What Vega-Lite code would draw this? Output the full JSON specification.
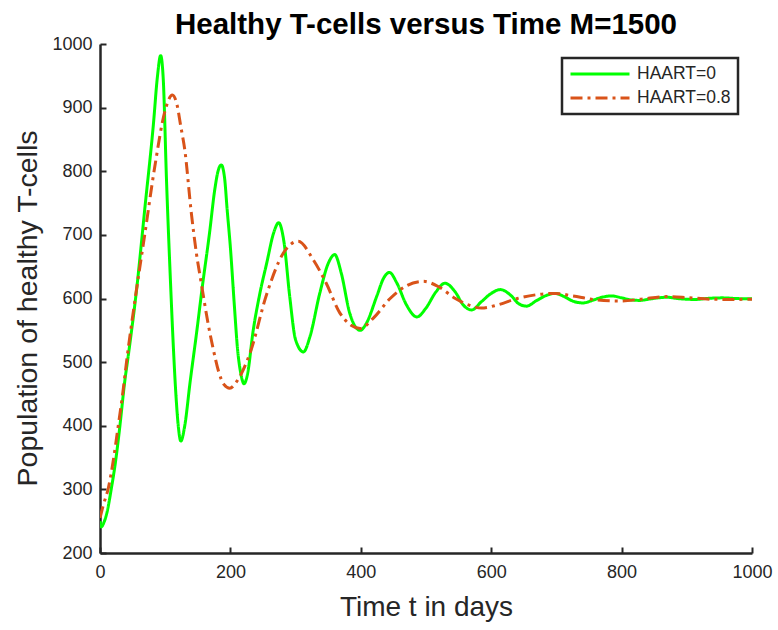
{
  "$schema": "https://vega.github.io/schema/vega-lite/v6.json",
  "autosize": {"type": "none"},
  "width": 652,
  "height": 509,
  "padding": {"left": 100, "top": 44, "right": 26, "bottom": 77},
  "background": "white",
  "config": {
    "view": {"stroke": null},
    "font": "Liberation Sans"
  },
  "title": {
    "text": "Healthy T-cells versus Time M=1500",
    "fontSize": 29.5,
    "fontWeight": "bold",
    "font": "Liberation Sans",
    "color": "#000000",
    "anchor": "middle",
    "offset": 0,
    "dy": 5
  },
  "data": {
    "values": [
      {"series": "HAART=0", "t": 0, "v": 250},
      {"series": "HAART=0", "t": 2, "v": 241},
      {"series": "HAART=0", "t": 6, "v": 248},
      {"series": "HAART=0", "t": 11, "v": 265},
      {"series": "HAART=0", "t": 17, "v": 299},
      {"series": "HAART=0", "t": 24, "v": 345},
      {"series": "HAART=0", "t": 30, "v": 395},
      {"series": "HAART=0", "t": 38, "v": 470},
      {"series": "HAART=0", "t": 44, "v": 515},
      {"series": "HAART=0", "t": 56, "v": 613},
      {"series": "HAART=0", "t": 69, "v": 744},
      {"series": "HAART=0", "t": 82, "v": 875},
      {"series": "HAART=0", "t": 88, "v": 948},
      {"series": "HAART=0", "t": 93, "v": 982},
      {"series": "HAART=0", "t": 97, "v": 945},
      {"series": "HAART=0", "t": 102, "v": 786},
      {"series": "HAART=0", "t": 108, "v": 629},
      {"series": "HAART=0", "t": 112.5, "v": 524},
      {"series": "HAART=0", "t": 116.6, "v": 446},
      {"series": "HAART=0", "t": 120, "v": 400},
      {"series": "HAART=0", "t": 124, "v": 376},
      {"series": "HAART=0", "t": 130, "v": 400},
      {"series": "HAART=0", "t": 138, "v": 467},
      {"series": "HAART=0", "t": 148, "v": 545},
      {"series": "HAART=0", "t": 157, "v": 619},
      {"series": "HAART=0", "t": 168, "v": 703},
      {"series": "HAART=0", "t": 176, "v": 771},
      {"series": "HAART=0", "t": 181, "v": 800},
      {"series": "HAART=0", "t": 186, "v": 810},
      {"series": "HAART=0", "t": 191, "v": 790},
      {"series": "HAART=0", "t": 195, "v": 740},
      {"series": "HAART=0", "t": 200, "v": 680},
      {"series": "HAART=0", "t": 206, "v": 590},
      {"series": "HAART=0", "t": 211, "v": 520},
      {"series": "HAART=0", "t": 216, "v": 482},
      {"series": "HAART=0", "t": 221, "v": 466},
      {"series": "HAART=0", "t": 226, "v": 480},
      {"series": "HAART=0", "t": 235, "v": 550},
      {"series": "HAART=0", "t": 245, "v": 607},
      {"series": "HAART=0", "t": 256, "v": 657},
      {"series": "HAART=0", "t": 266, "v": 702},
      {"series": "HAART=0", "t": 274, "v": 719},
      {"series": "HAART=0", "t": 282, "v": 690},
      {"series": "HAART=0", "t": 291, "v": 603},
      {"series": "HAART=0", "t": 300, "v": 535},
      {"series": "HAART=0", "t": 312, "v": 516},
      {"series": "HAART=0", "t": 322, "v": 540},
      {"series": "HAART=0", "t": 337, "v": 608},
      {"series": "HAART=0", "t": 350, "v": 655},
      {"series": "HAART=0", "t": 360, "v": 669},
      {"series": "HAART=0", "t": 370, "v": 640},
      {"series": "HAART=0", "t": 383, "v": 577},
      {"series": "HAART=0", "t": 392, "v": 555},
      {"series": "HAART=0", "t": 399, "v": 550},
      {"series": "HAART=0", "t": 408, "v": 560},
      {"series": "HAART=0", "t": 425, "v": 605},
      {"series": "HAART=0", "t": 435, "v": 632},
      {"series": "HAART=0", "t": 444, "v": 641},
      {"series": "HAART=0", "t": 455, "v": 625},
      {"series": "HAART=0", "t": 470, "v": 590},
      {"series": "HAART=0", "t": 486, "v": 571},
      {"series": "HAART=0", "t": 500, "v": 585},
      {"series": "HAART=0", "t": 515, "v": 610},
      {"series": "HAART=0", "t": 529, "v": 624},
      {"series": "HAART=0", "t": 545, "v": 610},
      {"series": "HAART=0", "t": 557, "v": 590},
      {"series": "HAART=0", "t": 570, "v": 582},
      {"series": "HAART=0", "t": 585, "v": 595},
      {"series": "HAART=0", "t": 600, "v": 608},
      {"series": "HAART=0", "t": 614, "v": 614},
      {"series": "HAART=0", "t": 630, "v": 605},
      {"series": "HAART=0", "t": 642, "v": 592},
      {"series": "HAART=0", "t": 654, "v": 588},
      {"series": "HAART=0", "t": 670, "v": 597},
      {"series": "HAART=0", "t": 685, "v": 605},
      {"series": "HAART=0", "t": 698, "v": 608},
      {"series": "HAART=0", "t": 712, "v": 603},
      {"series": "HAART=0", "t": 725, "v": 596},
      {"series": "HAART=0", "t": 741, "v": 593},
      {"series": "HAART=0", "t": 755, "v": 597},
      {"series": "HAART=0", "t": 770, "v": 602},
      {"series": "HAART=0", "t": 785, "v": 604},
      {"series": "HAART=0", "t": 800, "v": 601},
      {"series": "HAART=0", "t": 813, "v": 598},
      {"series": "HAART=0", "t": 828, "v": 597},
      {"series": "HAART=0", "t": 842, "v": 599},
      {"series": "HAART=0", "t": 856, "v": 601},
      {"series": "HAART=0", "t": 870, "v": 602},
      {"series": "HAART=0", "t": 885, "v": 600},
      {"series": "HAART=0", "t": 898, "v": 599},
      {"series": "HAART=0", "t": 913, "v": 598.5},
      {"series": "HAART=0", "t": 930, "v": 600},
      {"series": "HAART=0", "t": 955, "v": 601},
      {"series": "HAART=0", "t": 975, "v": 600},
      {"series": "HAART=0", "t": 1000, "v": 599.5},
      {"series": "HAART=0.8", "t": 0, "v": 255},
      {"series": "HAART=0.8", "t": 5, "v": 275},
      {"series": "HAART=0.8", "t": 13, "v": 303},
      {"series": "HAART=0.8", "t": 20, "v": 343},
      {"series": "HAART=0.8", "t": 28, "v": 400},
      {"series": "HAART=0.8", "t": 35, "v": 452},
      {"series": "HAART=0.8", "t": 41, "v": 503},
      {"series": "HAART=0.8", "t": 54, "v": 600},
      {"series": "HAART=0.8", "t": 69, "v": 703},
      {"series": "HAART=0.8", "t": 84, "v": 807},
      {"series": "HAART=0.8", "t": 100, "v": 896},
      {"series": "HAART=0.8", "t": 111, "v": 920},
      {"series": "HAART=0.8", "t": 118, "v": 905},
      {"series": "HAART=0.8", "t": 124, "v": 870},
      {"series": "HAART=0.8", "t": 130, "v": 834},
      {"series": "HAART=0.8", "t": 140, "v": 735},
      {"series": "HAART=0.8", "t": 148, "v": 670},
      {"series": "HAART=0.8", "t": 156, "v": 620},
      {"series": "HAART=0.8", "t": 165, "v": 565},
      {"series": "HAART=0.8", "t": 174, "v": 519},
      {"series": "HAART=0.8", "t": 182, "v": 485},
      {"series": "HAART=0.8", "t": 190, "v": 465},
      {"series": "HAART=0.8", "t": 199, "v": 459},
      {"series": "HAART=0.8", "t": 210, "v": 470},
      {"series": "HAART=0.8", "t": 230, "v": 514},
      {"series": "HAART=0.8", "t": 256, "v": 608},
      {"series": "HAART=0.8", "t": 281, "v": 671},
      {"series": "HAART=0.8", "t": 304, "v": 690},
      {"series": "HAART=0.8", "t": 327, "v": 661},
      {"series": "HAART=0.8", "t": 347, "v": 624},
      {"series": "HAART=0.8", "t": 368, "v": 577},
      {"series": "HAART=0.8", "t": 385, "v": 558},
      {"series": "HAART=0.8", "t": 399, "v": 553},
      {"series": "HAART=0.8", "t": 420, "v": 570},
      {"series": "HAART=0.8", "t": 445, "v": 600},
      {"series": "HAART=0.8", "t": 470, "v": 620},
      {"series": "HAART=0.8", "t": 496, "v": 627},
      {"series": "HAART=0.8", "t": 520, "v": 618},
      {"series": "HAART=0.8", "t": 545, "v": 600},
      {"series": "HAART=0.8", "t": 565, "v": 590},
      {"series": "HAART=0.8", "t": 585, "v": 585},
      {"series": "HAART=0.8", "t": 610, "v": 590},
      {"series": "HAART=0.8", "t": 640, "v": 600},
      {"series": "HAART=0.8", "t": 670, "v": 606},
      {"series": "HAART=0.8", "t": 698, "v": 608},
      {"series": "HAART=0.8", "t": 725, "v": 604},
      {"series": "HAART=0.8", "t": 760, "v": 598},
      {"series": "HAART=0.8", "t": 797, "v": 596},
      {"series": "HAART=0.8", "t": 830, "v": 599},
      {"series": "HAART=0.8", "t": 869, "v": 603},
      {"series": "HAART=0.8", "t": 900, "v": 601.5},
      {"series": "HAART=0.8", "t": 935, "v": 599},
      {"series": "HAART=0.8", "t": 970, "v": 598.5},
      {"series": "HAART=0.8", "t": 1000, "v": 599}
    ]
  },
  "mark": {"type": "line", "interpolate": "monotone", "strokeWidth": 3, "clip": true},
  "encoding": {
    "x": {
      "field": "t",
      "type": "quantitative",
      "scale": {"domain": [0, 1000], "nice": false, "zero": false},
      "axis": {
        "values": [0, 200, 400, 600, 800, 1000],
        "format": "d",
        "title": "Time t in days",
        "titleFontSize": 28,
        "titleFontWeight": "normal",
        "titleColor": "#262626",
        "titlePadding": 12,
        "labelFontSize": 18,
        "labelColor": "#262626",
        "labelPadding": 16,
        "labelFlush": false,
        "grid": false,
        "domainColor": "#262626",
        "domainWidth": 2.5,
        "tickColor": "#262626",
        "tickWidth": 2,
        "tickSize": -6
      }
    },
    "y": {
      "field": "v",
      "type": "quantitative",
      "scale": {"domain": [200, 1000], "nice": false, "zero": false},
      "axis": {
        "values": [200, 300, 400, 500, 600, 700, 800, 900, 1000],
        "format": "d",
        "title": "Population of healthy T-cells",
        "titleFontSize": 28.5,
        "titleFontWeight": "normal",
        "titleColor": "#262626",
        "titlePadding": 9,
        "titleY": 264,
        "labelFontSize": 18,
        "labelColor": "#262626",
        "labelPadding": 14,
        "labelFlush": false,
        "grid": false,
        "domainColor": "#262626",
        "domainWidth": 2.5,
        "tickColor": "#262626",
        "tickWidth": 2,
        "tickSize": -6
      }
    },
    "color": {
      "field": "series",
      "type": "nominal",
      "scale": {"domain": ["HAART=0", "HAART=0.8"], "range": ["#00FF00", "#D95319"]},
      "legend": {
        "title": null,
        "orient": "none",
        "legendX": 462,
        "legendY": 14,
        "symbolType": "stroke",
        "symbolSize": 3481,
        "symbolStrokeWidth": 3,
        "clipHeight": 18,
        "labelFontSize": 17.5,
        "labelColor": "#262626",
        "labelOffset": 6,
        "strokeColor": "#262626",
        "fillColor": "white",
        "padding": 7,
        "rowPadding": 6,
        "encode": {"legend": {"update": {"strokeWidth": {"value": 2.5}}}}
      }
    },
    "strokeDash": {
      "field": "series",
      "type": "nominal",
      "scale": {"domain": ["HAART=0", "HAART=0.8"], "range": [[1, 0], [12, 5, 3, 5]]},
      "legend": {
        "title": null,
        "orient": "none",
        "legendX": 462,
        "legendY": 14,
        "symbolType": "stroke",
        "symbolSize": 3481,
        "symbolStrokeWidth": 3,
        "clipHeight": 18,
        "labelFontSize": 17.5,
        "labelColor": "#262626",
        "labelOffset": 6,
        "strokeColor": "#262626",
        "fillColor": "white",
        "padding": 7,
        "rowPadding": 6,
        "encode": {"legend": {"update": {"strokeWidth": {"value": 2.5}}}}
      }
    }
  }
}
